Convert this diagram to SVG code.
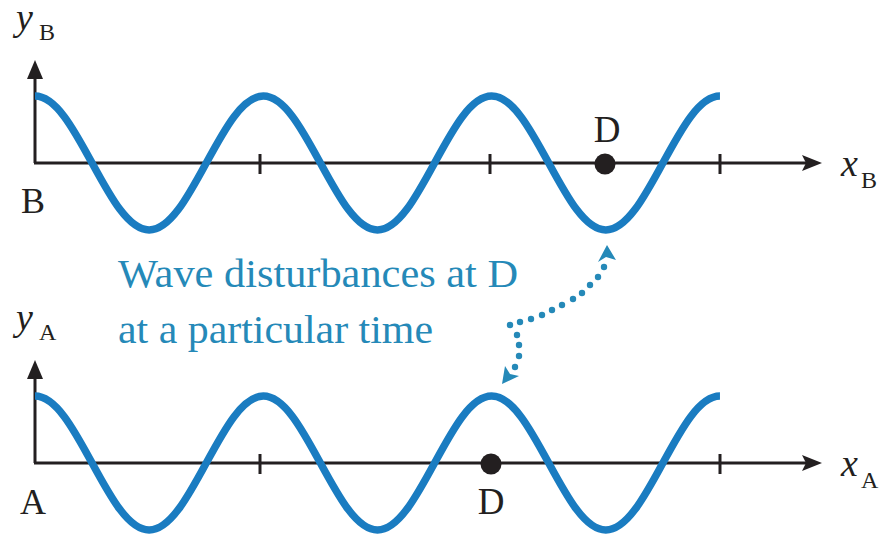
<svg xmlns="http://www.w3.org/2000/svg" width="895" height="537" viewBox="0 0 895 537">
  <defs>
    <style>
      .axis { stroke: #231f20; stroke-width: 3; fill: none; }
      .tick { stroke: #231f20; stroke-width: 3; }
      .wave { stroke: #1a7cc1; stroke-width: 7.5; fill: none; stroke-linecap: butt; }
      .lbl { font-family: "Liberation Serif", "Times New Roman", serif; fill: #231f20; }
      .it { font-style: italic; }
      .note { font-family: "Liberation Serif", "Times New Roman", serif; fill: #2589b8; font-size: 39px; }
      .dot { fill: #2589b8; }
      .head { fill: #231f20; }
    </style>
    <path id="wave" d="M0,0 c20.66,0 38.47,32.68 57.08,67 c18.62,34.32 36.43,67 57.08,67 c20.66,0 38.47,-32.68 57.08,-67 c18.62,-34.32 36.43,-67 57.08,-67 c20.66,0 38.47,32.68 57.08,67 c18.62,34.32 36.43,67 57.08,67 c20.66,0 38.47,-32.68 57.08,-67 c18.62,-34.32 36.43,-67 57.08,-67 c20.66,0 38.47,32.68 57.08,67 c18.62,34.32 36.43,67 57.08,67 c20.66,0 38.47,-32.68 57.08,-67 c18.62,-34.32 36.43,-67 57.08,-67"/>
  </defs>
  <rect width="895" height="537" fill="#ffffff"/>

  <!-- Top graph (B) -->
  <g id="graphB">
    <line class="axis" x1="35" y1="163" x2="35" y2="74"/>
    <polygon class="head" points="35,60 27,79 43,79"/>
    <line class="axis" x1="34" y1="163" x2="806" y2="163"/>
    <polygon class="head" points="822,163 802,155 806,163 802,171"/>
    <line class="tick" x1="260" y1="154" x2="260" y2="174"/>
    <line class="tick" x1="490" y1="154" x2="490" y2="174"/>
    <line class="tick" x1="720" y1="154" x2="720" y2="174"/>
    <use href="#wave" class="wave" x="35" y="96"/>
    <circle cx="605" cy="164" r="10.5" fill="#231f20"/>
    <text class="lbl" x="607" y="142" font-size="37" text-anchor="middle">D</text>
    <text class="lbl" x="21" y="213" font-size="36">B</text>
    <text class="lbl it" x="16" y="30" font-size="38">y</text>
    <text class="lbl" x="39" y="40" font-size="24">B</text>
    <text class="lbl it" x="841" y="176" font-size="38">x</text>
    <text class="lbl" x="861" y="188" font-size="24">B</text>
  </g>

  <!-- Bottom graph (A) -->
  <g id="graphA">
    <line class="axis" x1="35" y1="463" x2="35" y2="374"/>
    <polygon class="head" points="35,360 27,379 43,379"/>
    <line class="axis" x1="34" y1="463" x2="806" y2="463"/>
    <polygon class="head" points="822,463 802,455 806,463 802,471"/>
    <line class="tick" x1="260" y1="454" x2="260" y2="474"/>
    <line class="tick" x1="720" y1="454" x2="720" y2="474"/>
    <use href="#wave" class="wave" x="35" y="396"/>
    <circle cx="491" cy="464" r="10.5" fill="#231f20"/>
    <text class="lbl" x="491" y="514" font-size="37" text-anchor="middle">D</text>
    <text class="lbl" x="20" y="514" font-size="36">A</text>
    <text class="lbl it" x="16" y="330" font-size="38">y</text>
    <text class="lbl" x="39" y="340" font-size="24">A</text>
    <text class="lbl it" x="841" y="476" font-size="38">x</text>
    <text class="lbl" x="861" y="488" font-size="24">A</text>
  </g>

  <!-- Annotation -->
  <g id="note">
    <text class="note" x="118" y="287" textLength="400" lengthAdjust="spacingAndGlyphs">Wave disturbances at D</text>
    <text class="note" x="118" y="343" textLength="315" lengthAdjust="spacingAndGlyphs">at a particular time</text>
  </g>

  <!-- Connectors -->
  <g id="connectors">
    <circle class="dot" cx="604" cy="267" r="3.2"/>
    <circle class="dot" cx="598" cy="277" r="3.2"/>
    <circle class="dot" cx="590" cy="285" r="3.2"/>
    <circle class="dot" cx="582" cy="293" r="3.2"/>
    <circle class="dot" cx="573" cy="299" r="3.2"/>
    <circle class="dot" cx="562" cy="305" r="3.2"/>
    <circle class="dot" cx="552" cy="310" r="3.2"/>
    <circle class="dot" cx="542" cy="315" r="3.2"/>
    <circle class="dot" cx="531" cy="319" r="3.2"/>
    <circle class="dot" cx="520" cy="322" r="3.2"/>
    <circle class="dot" cx="510" cy="325" r="3.2"/>
    <circle class="dot" cx="517" cy="335" r="3.2"/>
    <circle class="dot" cx="519" cy="345" r="3.2"/>
    <circle class="dot" cx="519" cy="356" r="3.2"/>
    <circle class="dot" cx="515" cy="367" r="3.2"/>
    <polygon class="dot" points="607,245 598,262 606,257 616,260"/>
    <polygon class="dot" points="502,384 505,366 510,374 519,376"/>
  </g>
</svg>
